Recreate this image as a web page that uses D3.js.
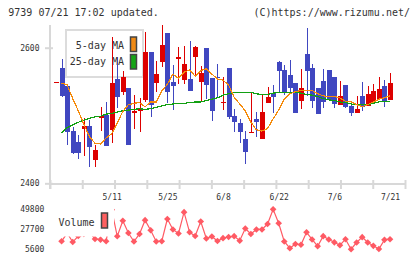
<!DOCTYPE html>
<html>
<head>
<meta charset="utf-8">
<script src="https://cdn.jsdelivr.net/npm/d3@7"></script>
<style>
body { margin: 0; background: #fff; }
svg { display: block; }
text { font-family: "DejaVu Sans Mono", monospace; fill: #333; }
</style>
</head>
<body>
<div id="viz"></div>
<script>
const width = 420;
const height = 259;
const plot = {left: 50, right: 405, top: 25, bottom: 184};
const up = '#dd0000';
const down = '#4047c0';

const dateLabels = ['5/11', '5/25', '6/8', '6/22', '7/6', '7/21'];
const dateIndex = [10, 20, 30, 40, 50, 60];
const priceTicks = [2400, 2600];
const volumeTicks = [5600, 27700, 49800];

const open = [2550, 2570, 2544, 2477, 2461, 2480, 2485, 2435, 2497, 2501,
  2479, 2554, 2534, 2541, 2503, 2506, 2523, 2594, 2548, 2579,
  2621, 2549, 2585, 2553, 2554, 2587, 2549, 2600, 2555, 2557,
  2519, 2570, 2499, 2489, 2465, 2475, 2495, 2466, 2519, 2533,
  2579, 2567, 2560, 2548, 2522, 2591, 2570, 2541, 2551, 2567,
  2557, 2516, 2545, 2514, 2504, 2529, 2514, 2520, 2524, 2544, 2523];
const high = [2550, 2584, 2544, 2483, 2471, 2496, 2494, 2457, 2513, 2520,
  2616, 2586, 2566, 2541, 2530, 2526, 2623, 2594, 2580, 2634,
  2621, 2575, 2601, 2603, 2610, 2603, 2573, 2600, 2555, 2576,
  2557, 2570, 2509, 2495, 2477, 2534, 2505, 2530, 2542, 2545,
  2580, 2575, 2582, 2548, 2568, 2629, 2576, 2541, 2569, 2567,
  2557, 2551, 2545, 2521, 2529, 2549, 2544, 2547, 2557, 2553, 2563];
const low = [2550, 2528, 2457, 2443, 2436, 2440, 2424, 2424, 2477, 2455,
  2459, 2511, 2530, 2456, 2480, 2476, 2520, 2498, 2534, 2571,
  2518, 2508, 2547, 2547, 2536, 2557, 2521, 2524, 2492, 2527,
  2508, 2495, 2476, 2459, 2429, 2475, 2468, 2466, 2519, 2503,
  2534, 2530, 2533, 2504, 2509, 2529, 2511, 2502, 2511, 2523,
  2511, 2516, 2511, 2500, 2504, 2507, 2514, 2520, 2524, 2513, 2523];
const close = [2550, 2529, 2476, 2445, 2444, 2485, 2454, 2449, 2499, 2455,
  2548, 2528, 2557, 2456, 2507, 2511, 2594, 2516, 2561, 2604,
  2534, 2544, 2586, 2576, 2536, 2601, 2563, 2545, 2506, 2556,
  2520, 2498, 2490, 2475, 2446, 2476, 2491, 2505, 2528, 2528,
  2566, 2534, 2540, 2504, 2541, 2566, 2522, 2502, 2520, 2523,
  2517, 2529, 2513, 2504, 2509, 2513, 2532, 2536, 2539, 2521, 2548];

const ma5 = [null, 2548, 2545, 2525, 2507, 2487, 2469, 2459, 2458, 2467,
  2473, 2489, 2506, 2516, 2518, 2519, 2513, 2520, 2520, 2536,
  2546, 2561, 2555, 2564, 2567, 2558, 2566, 2569, 2561, 2554,
  2552, 2545, 2527, 2517, 2507, 2490, 2479, 2477, 2481, 2495,
  2508, 2524, 2532, 2535, 2537, 2537, 2537, 2532, 2529, 2528,
  2528, 2526, 2521, 2520, 2516, 2513, 2516, 2520, 2524, 2526, 2529];
const ma25 = [null, 2474, 2482, 2486, 2490, 2493, 2496, 2498, 2499, 2502,
  2503, 2505, 2507, 2508, 2509, 2510, 2509, 2510, 2512, 2514,
  2516, 2517, 2518, 2518, 2519, 2520, 2520, 2522, 2524, 2526,
  2530, 2532, 2534, 2534, 2534, 2534, 2532, 2531, 2531, 2533,
  2534, 2534, 2534, 2534, 2533, 2531, 2530, 2528, 2525, 2523,
  2522, 2520, 2519, 2517, 2516, 2516, 2516, 2518, 2520, 2521, 2521];
const volume = [null, 14300, 23300, 13500, 20100, 22300, 24400, 16800, 16100, 14300,
  48700, 19800, 36700, 23300, 14100, 22300, 37300, 26400, 14100, 14400,
  38600, 27200, 22800, 46000, 24100, 20100, 35900, 17400, 19500, 14600,
  17700, 19000, 19900, 15000, 28200, 22300, 27200, 27200, 33100, 49100,
  34000, 14100, 6800, 11400, 10500, 24100, 16300, 9000, 19900, 16300,
  13200, 10000, 16600, 5700, 13000, 18800, 13000, 9400, 5900, 15900, 16600];

const svg = d3.select('#viz')
  .append('svg')
  .attr('width', width)
  .attr('height', height);

const x = d3.scaleLinear().domain([-1.08, 62.69]).range([plot.left, plot.right]);
const y = d3.scaleLinear().domain([2400, 2600]).range([183.3, 47.7]);
const vy = d3.scaleLinear().domain([5600, 49800]).range([249.3, 208.7]);
const gx = d3.scaleLinear().domain([0, 11]).range([plot.left, plot.right]);

// header
svg.append('text').attr('x', 8.3).attr('y', 15.8).attr('font-size', 10)
  .text('9739 07/21 17:02 updated.');
svg.append('text').attr('x', 410).attr('y', 15.8).attr('font-size', 10)
  .attr('text-anchor', 'end').text('(C)https://www.rizumu.net/');

// axes
const axisColor = '#d8d8d8';
svg.append('line')
  .attr('x1', plot.left).attr('x2', plot.left)
  .attr('y1', plot.top).attr('y2', 189)
  .attr('stroke', axisColor).attr('stroke-width', 2);
svg.append('line')
  .attr('x1', plot.left).attr('x2', plot.right)
  .attr('y1', plot.bottom).attr('y2', plot.bottom)
  .attr('stroke', axisColor).attr('stroke-width', 2);

const gridAxis = svg.append('g')
  .attr('transform', `translate(0, ${plot.bottom})`)
  .call(d3.axisBottom(gx).ticks(11).tickSize(5).tickFormat(''));
gridAxis.select('.domain').remove();
gridAxis.selectAll('line').attr('y1', -4).attr('stroke', axisColor).attr('stroke-width', 2);

const priceAxis = svg.append('g')
  .attr('transform', `translate(${plot.left}, 0)`)
  .call(d3.axisLeft(y).tickValues(priceTicks).tickSize(5).tickPadding(5.5).tickFormat(d3.format('d')));
priceAxis.select('.domain').remove();
priceAxis.selectAll('line').attr('x1', 3).attr('stroke', axisColor).attr('stroke-width', 2);
priceAxis.selectAll('text').attr('font-size', 8).attr('fill', '#333')
  .style('font-family', '"DejaVu Sans Mono", monospace');

const dateAxis = svg.append('g')
  .attr('transform', `translate(0, ${plot.bottom})`)
  .call(d3.axisBottom(x).tickValues(dateIndex).tickSize(0).tickPadding(10.5)
    .tickFormat((d, i) => dateLabels[i]));
dateAxis.select('.domain').remove();
dateAxis.selectAll('text').attr('font-size', 8).attr('fill', '#333')
  .style('font-family', '"DejaVu Sans Mono", monospace');

const volAxis = svg.append('g')
  .attr('transform', `translate(${plot.left}, 0)`)
  .call(d3.axisLeft(vy).tickValues(volumeTicks).tickSize(0).tickPadding(5.7).tickFormat(d3.format('d')));
volAxis.select('.domain').remove();
volAxis.selectAll('text').attr('font-size', 8).attr('fill', '#333')
  .style('font-family', '"DejaVu Sans Mono", monospace');

// price legend (under the candles)
const legend = svg.append('g');
legend.append('rect')
  .attr('x', 66).attr('y', 30).attr('width', 77).attr('height', 47)
  .attr('fill', '#fff').attr('stroke', '#dcdcdc').attr('stroke-width', 2);
legend.append('text').attr('x', 124).attr('y', 49).attr('font-size', 10)
  .attr('text-anchor', 'end').attr('fill', '#444').text('5-day MA');
legend.append('text').attr('x', 124).attr('y', 64.6).attr('font-size', 10)
  .attr('text-anchor', 'end').attr('fill', '#444').text('25-day MA');
legend.append('rect').attr('x', 130.5).attr('y', 37).attr('width', 6).attr('height', 14.5)
  .attr('fill', '#f08a14').attr('stroke', '#444').attr('stroke-width', 1.5);
legend.append('rect').attr('x', 130.5).attr('y', 54.5).attr('width', 6).attr('height', 14.5)
  .attr('fill', '#16a516').attr('stroke', '#444').attr('stroke-width', 1.5);

// candles
const candles = open.map((o, i) => ({i, o, h: high[i], l: low[i], c: close[i]}));
const groups = svg.selectAll('.candle')
  .data(candles)
  .join('g')
  .attr('class', 'candle')
  .attr('shape-rendering', 'crispEdges');

groups.append('line')
  .attr('x1', d => Math.round(x(d.i)) + 0.5)
  .attr('x2', d => Math.round(x(d.i)) + 0.5)
  .attr('y1', d => y(d.h))
  .attr('y2', d => y(d.l))
  .attr('stroke', d => d.c >= d.o ? up : down)
  .attr('stroke-width', 1);

groups.append('rect')
  .attr('x', d => Math.round(x(d.i)) - 2)
  .attr('width', 5)
  .attr('y', d => y(Math.max(d.o, d.c)))
  .attr('height', d => Math.max(1.5, Math.abs(y(d.o) - y(d.c))))
  .attr('fill', d => d.c >= d.o ? up : down);

// moving averages
const maLine = d3.line()
  .defined(d => d != null)
  .x((d, i) => x(i))
  .y(d => y(d));

svg.append('path')
  .attr('d', maLine(ma25))
  .attr('fill', 'none')
  .attr('stroke', '#12a012')
  .attr('stroke-width', 1.2)
  .attr('shape-rendering', 'crispEdges');

svg.append('path')
  .attr('d', maLine(ma5))
  .attr('fill', 'none')
  .attr('stroke', '#f58a0a')
  .attr('stroke-width', 1.2)
  .attr('shape-rendering', 'crispEdges');

// volume
const volColor = '#ff5a64';
const volLine = d3.line()
  .defined(d => d != null)
  .x((d, i) => x(i))
  .y(d => vy(d));

svg.append('path')
  .attr('d', volLine(volume))
  .attr('fill', 'none')
  .attr('stroke', volColor)
  .attr('stroke-width', 1.2);

svg.selectAll('.vol')
  .data(volume.map((v, i) => ({v, i})).filter(d => d.v != null))
  .join('path')
  .attr('class', 'vol')
  .attr('d', d3.symbol(d3.symbolSquare, 22))
  .attr('transform', d => `translate(${x(d.i)}, ${vy(d.v)}) rotate(45)`)
  .attr('fill', volColor);

// volume legend (over the line)
svg.append('rect')
  .attr('x', 55).attr('y', 200).attr('width', 59).attr('height', 36.5)
  .attr('fill', '#fff');
svg.append('text').attr('x', 58.5).attr('y', 226).attr('font-size', 10)
  .attr('fill', '#444').text('Volume');
svg.append('rect').attr('x', 101.5).attr('y', 213).attr('width', 6).attr('height', 15)
  .attr('fill', '#ff6060').attr('stroke', '#444').attr('stroke-width', 1.5);
</script>
</body>
</html>
